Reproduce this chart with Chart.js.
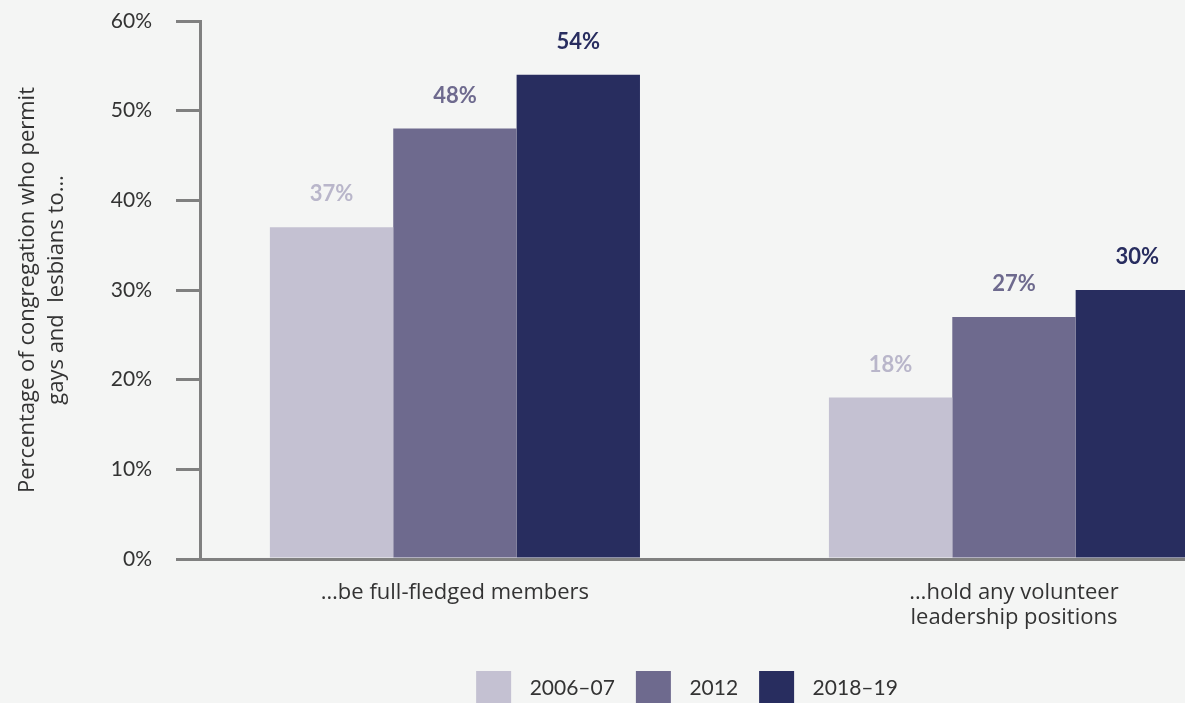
<!DOCTYPE html>
<html>
<head>
<meta charset="utf-8">
<script src="https://cdn.jsdelivr.net/npm/chart.js@4"></script>
<style>
  html, body { margin: 0; padding: 0; background: #f4f5f4; overflow: hidden; }
  #wrap { position: absolute; left: 0; top: 0; }
</style>
</head>
<body>
<div id="wrap"><canvas id="congregation" width="1374" height="716"></canvas></div>
<script>
const categories = [['\u2026be full-fledged members'], ['\u2026hold any volunteer', 'leadership positions']];
const seriesNames = ['2006\u201307', '2012', '2018\u201319'];
const values0607 = [37, 18];
const values2012 = [48, 27];
const values1819 = [54, 30];
const yTicks = [0, 10, 20, 30, 40, 50, 60];

const barColors = ['#c4c1d2', '#6e6a8e', '#282d5f'];
const labelColors = ['#b9b6ca', '#6e6a8e', '#282d5f'];
const axisGray = '#808080';
const numFont = 'Lato';
const textFont = 'Open Sans';

const points = vals => vals.map((v, i) => ({x: i, y: v}));

const valueLabels = {
  id: 'valueLabels',
  afterDatasetsDraw(chart) {
    const ctx = chart.ctx;
    ctx.save();
    ctx.font = 'bold 22px ' + numFont;
    ctx.textAlign = 'center';
    ctx.textBaseline = 'middle';
    chart.data.datasets.forEach((ds, d) => {
      ctx.fillStyle = labelColors[d];
      chart.getDatasetMeta(d).data.forEach((bar, i) => {
        ctx.fillText(ds.data[i].y + '%', bar.x, bar.y - 33);
      });
    });
    ctx.restore();
  }
};

const congregation = new Chart(document.getElementById('congregation').getContext('2d'), {
  type: 'bar',
  data: {
    datasets: [
      {label: seriesNames[0], data: points(values0607), backgroundColor: barColors[0]},
      {label: seriesNames[1], data: points(values2012), backgroundColor: barColors[1]},
      {label: seriesNames[2], data: points(values1819), backgroundColor: barColors[2]}
    ]
  },
  options: {
    responsive: false,
    animation: false,
    categoryPercentage: 0.662,
    barPercentage: 1,
    layout: {padding: {top: 21, right: 0, bottom: 0, left: 0}},
    scales: {
      x: {
        type: 'linear',
        offset: false,
        min: -0.456,
        max: 1.644,
        afterBuildTicks: s => { s.ticks = categories.map((c, i) => ({value: i})); },
        afterFit: s => { s.height = 91; },
        grid: {display: false, offset: false},
        border: {display: true, color: axisGray, width: 3},
        ticks: {
          callback: v => categories[v],
          font: {family: textFont, size: 22, lineHeight: 1.14},
          color: '#333',
          padding: 13,
          maxRotation: 0
        }
      },
      y: {
        min: 0,
        max: 60,
        afterBuildTicks: s => { s.ticks = yTicks.map(v => ({value: v})); },
        afterFit: s => { s.width = 200; s.paddingTop = 0; s.paddingBottom = 0; },
        grid: {drawOnChartArea: false, color: axisGray, lineWidth: 3, tickLength: 24},
        border: {display: true, color: axisGray, width: 3},
        ticks: {
          callback: v => v + '%',
          font: {family: numFont, size: 21},
          color: '#333',
          padding: 24
        },
        title: {
          display: true,
          text: ['Percentage of congregation who permit', 'gays and  lesbians to\u2026'],
          font: {family: textFont, size: 22, lineHeight: 1.32},
          color: '#333',
          padding: {top: 13, bottom: 0}
        }
      }
    },
    plugins: {
      legend: {
        position: 'bottom',
        labels: {
          boxWidth: 35,
          boxHeight: 35,
          padding: 21,
          color: '#333',
          font: {family: numFont, size: 21},
          generateLabels: chart => Chart.defaults.plugins.legend.labels.generateLabels(chart)
            .map(l => Object.assign(l, {text: ' \u2009' + l.text, lineWidth: 0}))
        }
      },
      tooltip: {enabled: false}
    }
  },
  plugins: [valueLabels]
});
</script>
</body>
</html>
